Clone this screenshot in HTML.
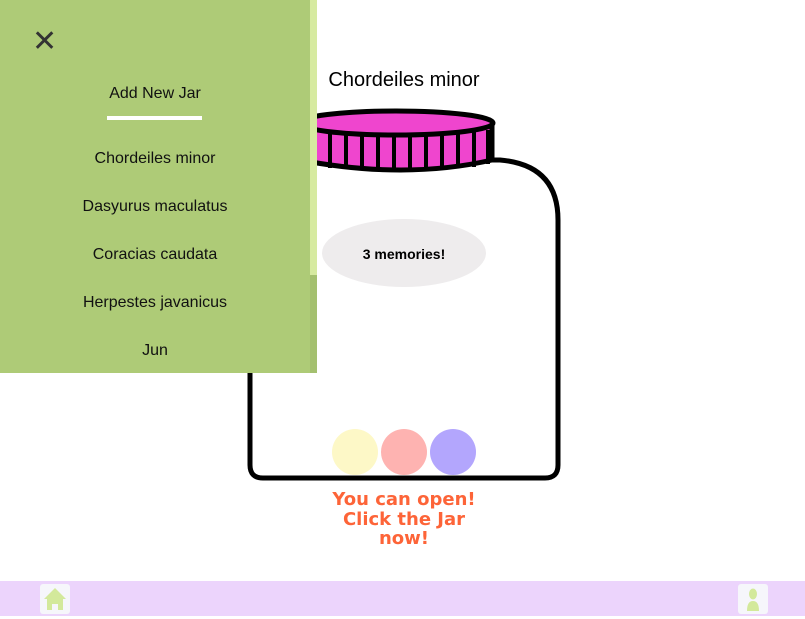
<!DOCTYPE html>
<html><head><meta charset="utf-8"><style>
body{margin:0;width:805px;height:616px;position:relative;overflow:hidden;background:#fff;font-family:"Liberation Sans",sans-serif}
#side{position:absolute;left:0;top:0;width:310px;height:373px;background:#aecb77}
#scroll{position:absolute;left:310px;top:0;width:7px;height:373px;background:#a4c06f}
#thumb{position:absolute;left:310px;top:0;width:7px;height:275px;background:#d6eaa0}
.item{position:absolute;left:0;width:310px;text-align:center;font-size:16px;color:#111}
#foot{position:absolute;left:0;top:581px;width:805px;height:35px;background:#ecd4fc}
.ib{position:absolute;top:584px;width:30px;height:30px;background:#f6f6fb;border-radius:3px}
</style></head><body>
<svg style="position:absolute;left:0;top:0" width="805" height="616">
<path d="M250,160 L500,160 Q558,165 558,220 L558,465 Q558,478 545,478 L263,478 Q250,478 250,465 Z" fill="#fff" stroke="#000" stroke-width="5"/>
<ellipse cx="404" cy="253" rx="82" ry="34" fill="#eeeced"/>
<text x="404" y="259" text-anchor="middle" font-size="14" font-weight="bold" font-family="Liberation Sans">3 memories!</text>
<circle cx="355" cy="452" r="23" fill="#fdf8c7"/>
<circle cx="404" cy="452" r="23" fill="#feb3b1"/>
<circle cx="453" cy="452" r="23" fill="#b3a6fd"/>
<path d="M300,125 L300,160 Q405,180 492,160 L492,125 Z" fill="#ef45ce" stroke="#000" stroke-width="5"/>
<g stroke="#000" stroke-width="4">
<line x1="330" y1="133" x2="330" y2="168"/><line x1="346" y1="134" x2="346" y2="169"/><line x1="362" y1="134" x2="362" y2="170"/><line x1="378" y1="134" x2="378" y2="170"/><line x1="394" y1="134" x2="394" y2="170"/><line x1="410" y1="134" x2="410" y2="170"/><line x1="426" y1="134" x2="426" y2="170"/><line x1="442" y1="134" x2="442" y2="169"/><line x1="458" y1="133" x2="458" y2="168"/><line x1="474" y1="132" x2="474" y2="167"/><line x1="488" y1="130" x2="488" y2="164"/></g>
<ellipse cx="396" cy="123" rx="97" ry="12" fill="#ef45ce" stroke="#000" stroke-width="5"/>
<text x="404" y="86" text-anchor="middle" font-size="20" font-family="Liberation Sans">Chordeiles minor</text>
<g font-family="DejaVu Sans" font-weight="bold" font-size="18" fill="#fd6438" text-anchor="middle">
<text x="404" y="505">You can open!</text><text x="404" y="525">Click the Jar</text><text x="404" y="544">now!</text></g>
</svg>
<div id="side">
<div style="position:absolute;left:32px;top:26px;font-size:30px;color:#333;line-height:32px">✕</div>
<div class="item" style="top:85px">Add New Jar</div>
<div style="position:absolute;left:107px;top:116px;width:95px;height:4px;background:#fff"></div>
<div class="item" style="top:150px">Chordeiles minor</div>
<div class="item" style="top:198px">Dasyurus maculatus</div>
<div class="item" style="top:246px">Coracias caudata</div>
<div class="item" style="top:294px">Herpestes javanicus</div>
<div class="item" style="top:342px">Jun</div>
</div>
<div id="scroll"></div>
<div id="thumb"></div>
<div id="foot"></div>
<div class="ib" style="left:40px"><svg width="30" height="30"><path d="M15,4 L26,15 L23,15 L23,26 L18,26 L18,20 L12,20 L12,26 L7,26 L7,15 L4,15 Z" fill="#d3e99b"/></svg></div>
<div class="ib" style="left:738px"><svg width="30" height="30"><ellipse cx="15" cy="10" rx="4" ry="5.5" fill="#d3e99b"/><path d="M9,27 Q9,17 15,17 Q21,17 21,27 Z" fill="#d3e99b"/></svg></div>
</body></html>
